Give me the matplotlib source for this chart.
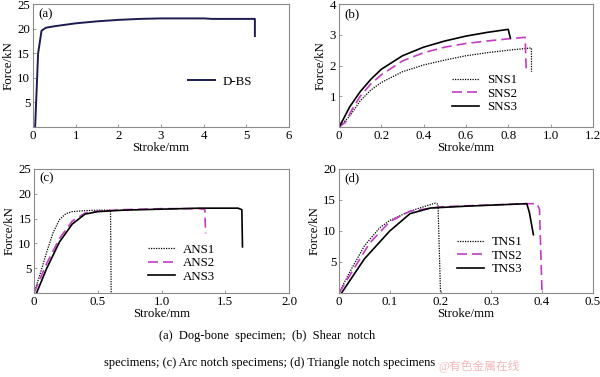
import matplotlib.pyplot as plt

plt.rcParams['font.family'] = ['Liberation Serif', 'Noto Sans CJK SC']
plt.rcParams['font.size'] = 9.3

# (a) dog-bone specimen
dbs_x = [0.05, 0.12, 0.2, 0.3, 0.5, 1.0, 1.5, 2.0, 2.5, 3.0, 4.0, 4.2, 5.2, 5.2]
dbs_y = [0.0, 15.0, 19.6, 20.2, 20.5, 21.1, 21.5, 21.8, 22.0, 22.1, 22.1, 22.0, 22.0, 18.5]

# (b) shear notch
sns1_x = [0.0, 0.05, 0.1, 0.15, 0.2, 0.3, 0.4, 0.5, 0.6, 0.7, 0.8, 0.9, 0.91, 0.91]
sns1_y = [0.0, 0.35, 0.85, 1.2, 1.45, 1.8, 2.02, 2.18, 2.32, 2.42, 2.5, 2.57, 2.57, 1.8]
sns2_x = [0.0, 0.03, 0.06, 0.1, 0.15, 0.2, 0.3, 0.4, 0.5, 0.6, 0.7, 0.8, 0.88, 0.885]
sns2_y = [0.0, 0.15, 0.55, 1.0, 1.4, 1.7, 2.15, 2.42, 2.6, 2.72, 2.8, 2.87, 2.92, 1.9]
sns3_x = [0.0, 0.02, 0.05, 0.1, 0.15, 0.2, 0.3, 0.4, 0.5, 0.6, 0.7, 0.8, 0.81]
sns3_y = [0.0, 0.25, 0.65, 1.15, 1.55, 1.88, 2.32, 2.6, 2.8, 2.96, 3.08, 3.18, 2.9]

# (c) arc notch
ans1_x = [0.0, 0.05, 0.1, 0.15, 0.2, 0.25, 0.3, 0.4, 0.5, 0.6, 0.605]
ans1_y = [0.0, 4.0, 8.3, 12.2, 14.8, 16.0, 16.4, 16.6, 16.7, 16.7, 0.0]
ans2_x = [0.0, 0.1, 0.2, 0.3, 0.4, 0.5, 0.7, 1.0, 1.3, 1.34, 1.345]
ans2_y = [0.0, 6.0, 11.0, 14.5, 16.1, 16.5, 16.8, 17.0, 17.0, 16.8, 12.0]
ans3_x = [0.02, 0.1, 0.2, 0.3, 0.4, 0.5, 0.7, 1.0, 1.3, 1.6, 1.63, 1.635]
ans3_y = [0.0, 5.0, 10.3, 13.9, 15.9, 16.4, 16.7, 16.9, 17.1, 17.1, 16.8, 9.3]

# (d) triangle notch
tns1_x = [0.0, 0.02, 0.05, 0.08, 0.1, 0.14, 0.17, 0.19, 0.195, 0.2]
tns1_y = [0.0, 3.2, 7.6, 10.5, 11.7, 13.2, 14.0, 14.5, 14.3, 0.0]
tns2_x = [0.0, 0.03, 0.06, 0.1, 0.14, 0.2, 0.3, 0.37, 0.39, 0.395, 0.4]
tns2_y = [0.0, 4.0, 8.0, 11.5, 13.2, 13.9, 14.2, 14.4, 14.4, 13.5, 0.0]
tns3_x = [0.005, 0.05, 0.1, 0.14, 0.18, 0.25, 0.37, 0.375, 0.383]
tns3_y = [0.0, 5.5, 10.0, 12.8, 13.7, 14.0, 14.4, 13.0, 9.4]

magenta = '#c43cc4'
frame = '#8a8a8a'


def style_axes(ax, label, xlim, ylim, xticks, xlabels, yticks):
    ax.set_xlim(xlim)
    ax.set_ylim(ylim)
    ax.set_xticks(xticks)
    ax.set_xticklabels(xlabels)
    ax.set_yticks(yticks)
    ax.tick_params(direction='in', length=2.5, width=0.6, color=frame, pad=2)
    for s in ax.spines.values():
        s.set_color(frame)
        s.set_linewidth(0.8)
    ax.set_xlabel('Stroke/mm', labelpad=0)
    ax.set_ylabel('Force/kN', labelpad=2)
    ax.text(0.02, 0.97, label, transform=ax.transAxes, va='top', ha='left')


def add_legend(ax, anchor):
    ax.legend(loc='center left', bbox_to_anchor=anchor, frameon=False,
              handlelength=2.1, handletextpad=0.6, labelspacing=0.12)


fig = plt.figure(figsize=(6, 3.77), dpi=100)

ax_a = fig.add_axes([0.055, 0.663, 0.4267, 0.326])
ax_a.plot(dbs_x, dbs_y, color='#1c1c50', lw=1.4, label='D-BS')
style_axes(ax_a, '(a)', (0, 6), (0, 25), range(0, 7), [str(i) for i in range(7)],
           [5, 10, 15, 20, 25])
add_legend(ax_a, (0.56, 0.37))

ax_b = fig.add_axes([0.565, 0.663, 0.423, 0.326])
ax_b.plot(sns1_x, sns1_y, color='black', lw=0.9, ls=(0, (1, 1)), label='SNS1')
ax_b.plot(sns2_x, sns2_y, color=magenta, lw=1.2, ls=(0, (6, 3)), label='SNS2')
ax_b.plot(sns3_x, sns3_y, color='black', lw=1.2, label='SNS3')
style_axes(ax_b, '(b)', (0, 1.2), (0, 4), [0, 0.2, 0.4, 0.6, 0.8, 1.0, 1.2],
           ['0', '0.2', '0.4', '0.6', '0.8', '1.0', '1.2'], [1, 2, 3, 4])
add_legend(ax_b, (0.4, 0.27))

ax_c = fig.add_axes([0.0567, 0.2228, 0.425, 0.329])
ax_c.plot(ans1_x, ans1_y, color='black', lw=0.9, ls=(0, (1, 1)), label='ANS1')
ax_c.plot(ans2_x, ans2_y, color=magenta, lw=1.2, ls=(0, (6, 3)), label='ANS2')
ax_c.plot(ans3_x, ans3_y, color='black', lw=1.2, label='ANS3')
style_axes(ax_c, '(c)', (0, 2.0), (0, 25), [0, 0.5, 1.0, 1.5, 2.0],
           ['0', '0.5', '1.0', '1.5', '2.0'], [5, 10, 15, 20, 25])
add_legend(ax_c, (0.4, 0.24))

ax_d = fig.add_axes([0.565, 0.2228, 0.423, 0.329])
ax_d.plot(tns1_x, tns1_y, color='black', lw=0.9, ls=(0, (1, 1)), label='TNS1')
ax_d.plot(tns2_x, tns2_y, color=magenta, lw=1.2, ls=(0, (6, 3)), label='TNS2')
ax_d.plot(tns3_x, tns3_y, color='black', lw=1.2, label='TNS3')
style_axes(ax_d, '(d)', (0, 0.5), (0, 20), [0, 0.1, 0.2, 0.3, 0.4, 0.5],
           ['0', '0.1', '0.2', '0.3', '0.4', '0.5'], [5, 10, 15, 20])
add_legend(ax_d, (0.42, 0.3))

fig.text(0.445, 0.108, '(a)  Dog-bone  specimen;  (b)  Shear  notch',
         ha='center', va='center', fontsize=9)
fig.text(0.45, 0.037, 'specimens; (c) Arc notch specimens; (d) Triangle notch specimens',
         ha='center', va='center', fontsize=9)
fig.text(0.73, 0.028, '@有色金属在线', ha='left', va='center', fontsize=8.5,
         color='#f2b8b8')

fig.savefig('out.png', dpi=100)
